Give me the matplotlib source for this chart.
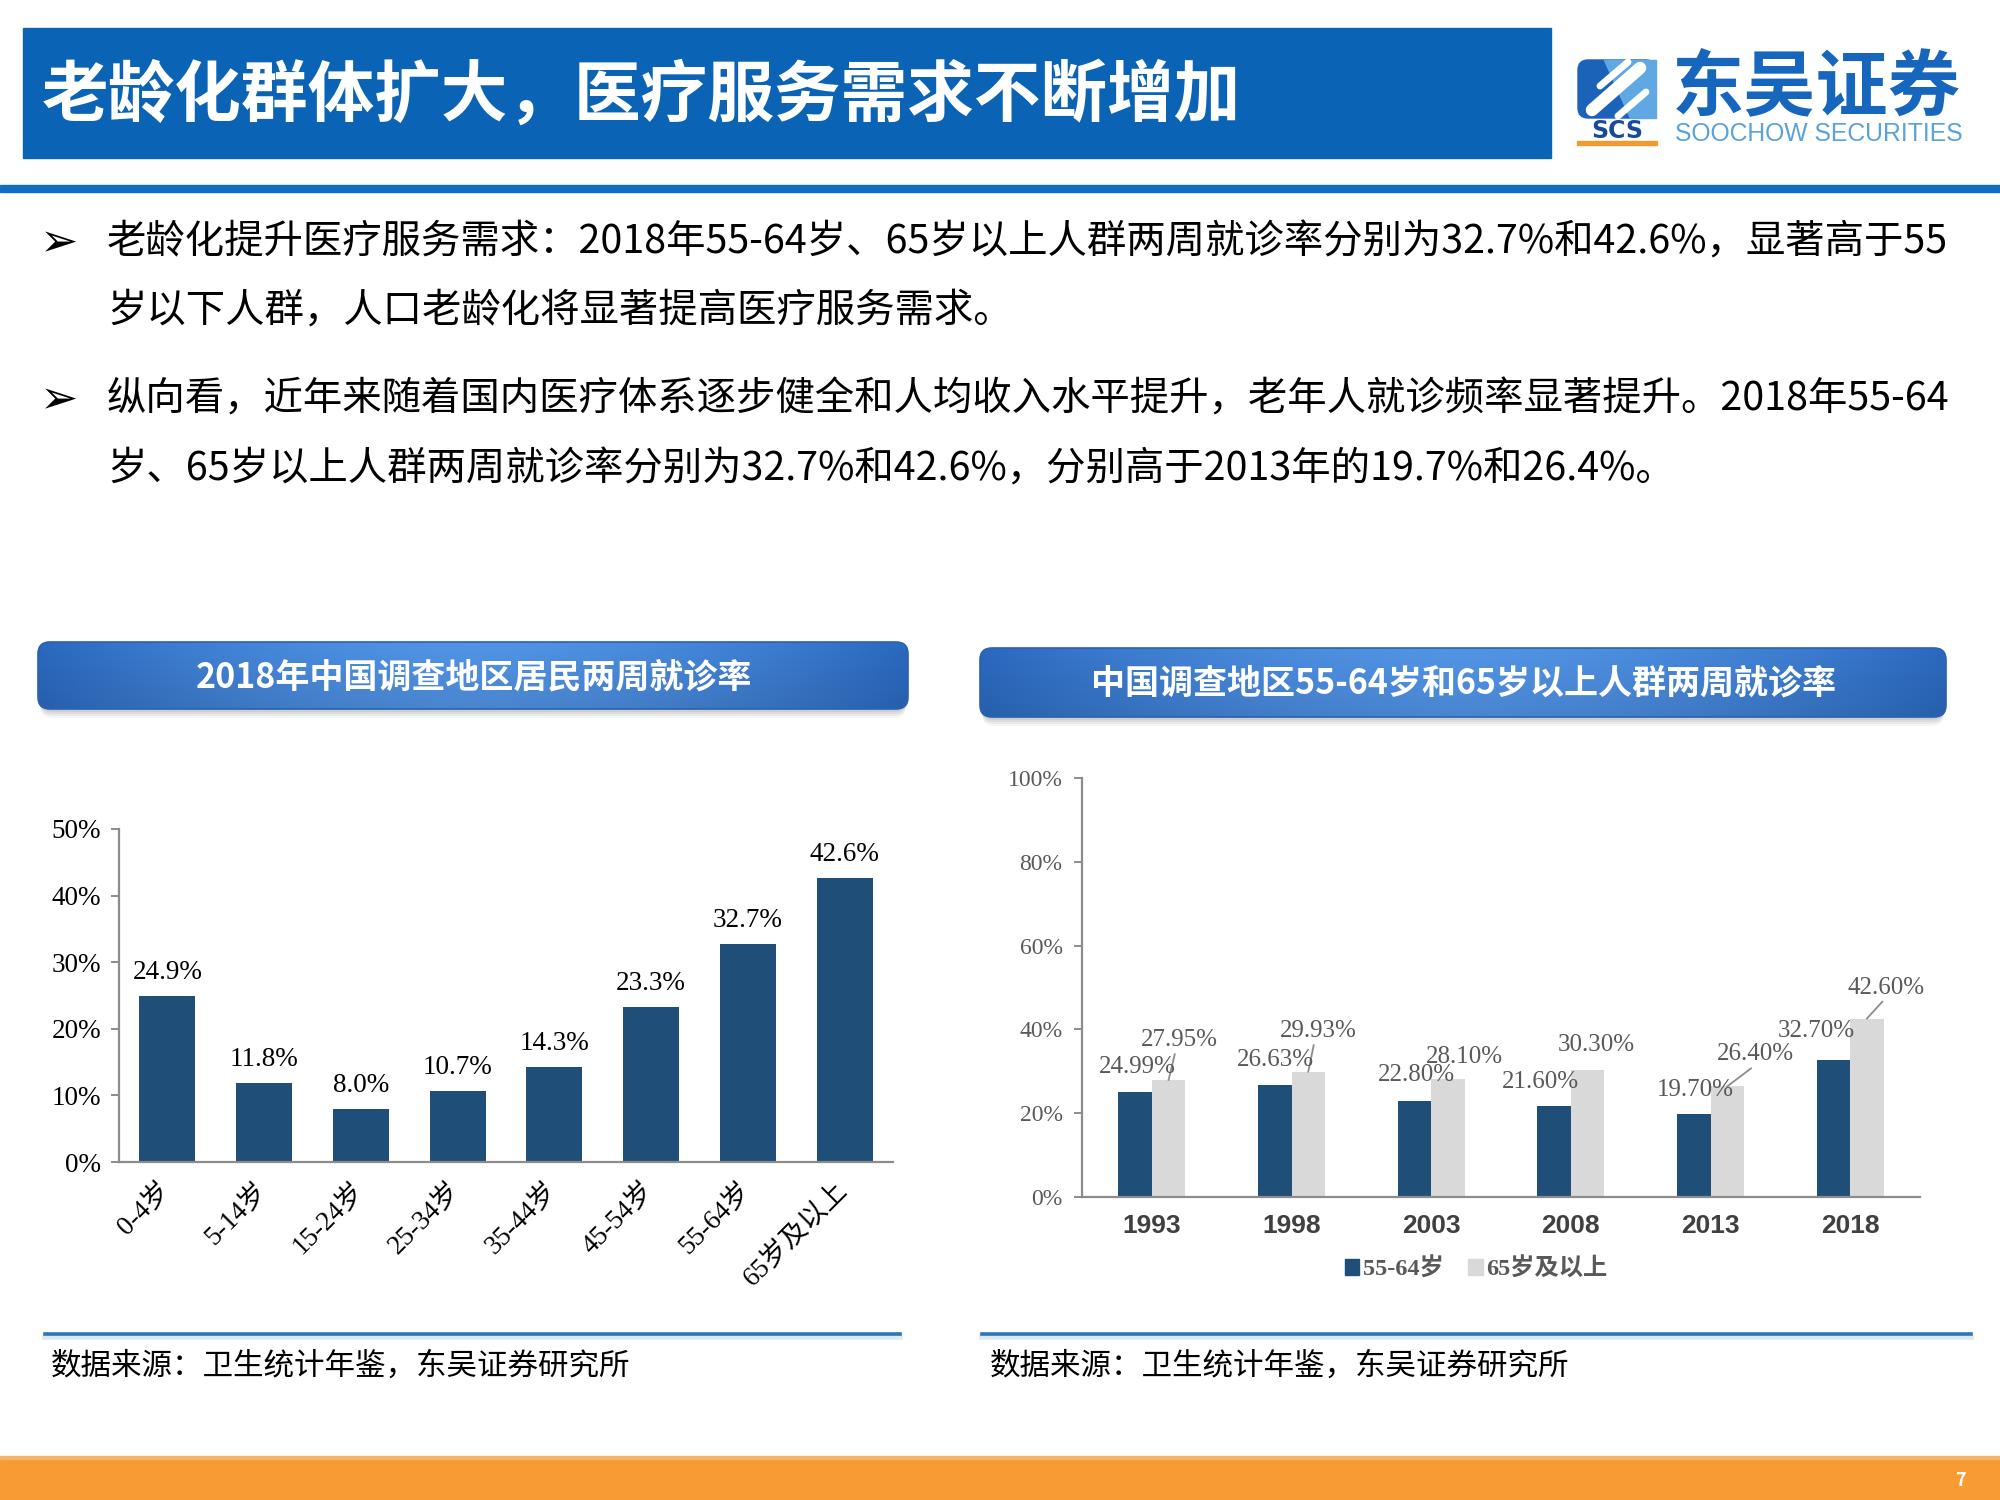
import matplotlib
matplotlib.use('Agg')
import matplotlib.pyplot as plt
import numpy as np
from matplotlib.patches import FancyBboxPatch, Rectangle, Polygon, Patch
from matplotlib.ticker import FuncFormatter, MultipleLocator

plt.rcParams['font.family'] = ['Noto Sans CJK SC', 'DejaVu Sans']

# ---------------- data ----------------
page_title = "老龄化群体扩大，医疗服务需求不断增加"
bullet_lines = [
    "老龄化提升医疗服务需求：2018年55-64岁、65岁以上人群两周就诊率分别为32.7%和42.6%，显著高于55",
    "岁以下人群，人口老龄化将显著提高医疗服务需求。",
    "纵向看，近年来随着国内医疗体系逐步健全和人均收入水平提升，老年人就诊频率显著提升。2018年55-64",
    "岁、65岁以上人群两周就诊率分别为32.7%和42.6%，分别高于2013年的19.7%和26.4%。",
]
bullet_flags = [True, False, True, False]

left_title = "2018年中国调查地区居民两周就诊率"
age_groups = ["0-4岁", "5-14岁", "15-24岁", "25-34岁", "35-44岁", "45-54岁", "55-64岁", "65岁及以上"]
visit_rate_2018 = [24.9, 11.8, 8.0, 10.7, 14.3, 23.3, 32.7, 42.6]

right_title = "中国调查地区55-64岁和65岁以上人群两周就诊率"
years = ["1993", "1998", "2003", "2008", "2013", "2018"]
rate_55_64 = [24.99, 26.63, 22.80, 21.60, 19.70, 32.70]
rate_65_plus = [27.95, 29.93, 28.10, 30.30, 26.40, 42.60]
series_names = ["55-64岁", "65岁及以上"]

source_text = "数据来源：卫生统计年鉴，东吴证券研究所"
logo_cn = "东吴证券"
logo_en = "SOOCHOW SECURITIES"
page_no = "7"

# label layout (offsets from bar centre / bar top), style only
dark_lab_dx = [0.013, 0.008, 0.013, -0.10, 0.013, -0.12]
dark_lab_dy = [6.1, 6.0, 6.2, 5.8, 5.9, 6.9]
light_lab_dx = [0.074, 0.069, 0.12, 0.06, 0.20, 0.14]
light_lab_dy = [9.5, 9.7, 5.4, 6.0, 7.7, 7.4]
light_leader = [True, True, False, False, True, True]

# ---------------- figure ----------------
W, H = 2000, 1500
DPI = 100
fig = plt.figure(figsize=(W / DPI, H / DPI), dpi=DPI)
bg = fig.add_axes([0, 0, 1, 1])
bg.set_xlim(0, W)
bg.set_ylim(H, 0)
bg.axis('off')

NAVY = '#1F4E79'
LIGHT = '#D9D9D9'
HEAD_BLUE = '#0B63B5'
SERIF = ['Liberation Serif', 'Noto Sans CJK SC']


def fig_rect(x0, y0, x1, y1):
    return [x0 / W, 1 - y1 / H, (x1 - x0) / W, (y1 - y0) / H]


# header
bg.add_patch(Rectangle((23, 28), 1528, 130, color=HEAD_BLUE, zorder=1))
bg.text(42, 96, page_title, color='white', fontsize=48, fontweight='bold',
        va='center', ha='left', zorder=2)
bg.add_patch(Rectangle((0, 185), W, 7, color='#0F6DC2', zorder=1))

# logo
bg.add_patch(FancyBboxPatch((1578, 60), 78, 58, boxstyle="round,pad=0,rounding_size=10",
                            color='#1A63B8', zorder=2))
bg.add_patch(Polygon([[1604, 60], [1656, 60], [1656, 118], [1630, 118]], closed=True,
                     color='#5FA8E3', zorder=2))
bg.plot([1592, 1640], [110, 68], color='white', lw=9, solid_capstyle='round', zorder=3)
bg.plot([1600, 1628], [86, 62], color='white', lw=5, solid_capstyle='round', zorder=3)
bg.plot([1618, 1646], [116, 92], color='white', lw=5, solid_capstyle='round', zorder=3)
bg.text(1617, 131, "SCS", color='#174A9C', fontsize=17, fontweight='bold',
        family=['DejaVu Sans'], ha='center', va='center', zorder=3)
bg.add_patch(Rectangle((1577, 141), 80, 4, color='#F29A2E', zorder=3))
bg.text(1672, 88, logo_cn, color='#1766BD', fontsize=52, fontweight='bold',
        ha='left', va='center', zorder=3)
t_en = bg.text(1675, 134, logo_en, color='#5AA2DA', fontsize=19,
               family=['Liberation Sans'], ha='left', va='center', zorder=3)

# body text
y_lines = [243, 311, 400, 470]
body_texts = []
for txt, yy, fl in zip(bullet_lines, y_lines, bullet_flags):
    if fl:
        bg.text(59, yy + 1, "\u27A2", family=['DejaVu Sans'], fontsize=33, color='black',
                ha='center', va='center')
    body_texts.append(bg.text(107, yy, txt, fontsize=28, color='black',
                              ha='left', va='center'))

# fit body text size to the reference line width
fig.canvas.draw()
r = fig.canvas.get_renderer()
w1 = body_texts[0].get_window_extent(r).width
fs = 28 * 1841.0 / w1
for t in body_texts:
    t.set_fontsize(fs)
we = t_en.get_window_extent(r).width
t_en.set_fontsize(19 * 288.0 / we)


# banners
def banner(x0, y0, x1, y1, text, cx, cy):
    for k, a in [(9, 0.05), (7, 0.07), (5, 0.09), (3, 0.10)]:
        bg.add_patch(FancyBboxPatch((x0 + 2, y0 + k), x1 - x0 - 4, y1 - y0,
                                    boxstyle="round,pad=0,rounding_size=12",
                                    color='#555555', alpha=a, lw=0, zorder=1))
    clip = FancyBboxPatch((x0, y0), x1 - x0, y1 - y0,
                          boxstyle="round,pad=0,rounding_size=12",
                          facecolor='none', edgecolor='#2A62B0', lw=1.2, zorder=3)
    bg.add_patch(clip)
    t = np.linspace(0, 1, 400)
    v = np.linspace(0, 1, 60)
    f = 1 - np.abs(2 * t - 1) ** 1.6
    edge = np.array([0x2B, 0x69, 0xBF]) / 255.0
    cen = np.array([0x52, 0x94, 0xE6]) / 255.0
    img = edge[None, None, :] + (cen - edge)[None, None, :] * f[None, :, None]
    vshade = 1 - 0.10 * v
    img = img * vshade[:, None, None]
    im = bg.imshow(np.clip(img, 0, 1), extent=(x0, x1, y1, y0), origin='upper',
                   aspect='auto', zorder=2, interpolation='bilinear')
    im.set_clip_path(clip)
    bg.text(cx, cy, text, color='white', fontsize=24.5, fontweight='bold',
            ha='center', va='center', zorder=4)


banner(38, 642, 908, 709, left_title, 474, 677)
banner(980, 648, 1946, 717, right_title, 1463, 683)
bg.set_xlim(0, W)
bg.set_ylim(H, 0)

# ---------------- left chart ----------------
ax1 = fig.add_axes(fig_rect(119, 829, 893, 1162))
x1 = np.arange(len(age_groups))
ax1.bar(x1, visit_rate_2018, width=0.58, color=NAVY, zorder=2)
ax1.set_xlim(-0.5, len(age_groups) - 0.5)
ax1.set_ylim(0, 50)
ax1.yaxis.set_major_locator(MultipleLocator(10))
ax1.yaxis.set_major_formatter(FuncFormatter(lambda v, p: f"{v:.0f}%"))
for s in ['top', 'right']:
    ax1.spines[s].set_visible(False)
for s in ['left', 'bottom']:
    ax1.spines[s].set_color('#8C8C8C')
    ax1.spines[s].set_linewidth(1.6)
ax1.tick_params(axis='y', direction='out', length=6, width=1.4, color='#8C8C8C',
                labelsize=19.5, pad=7)
ax1.tick_params(axis='x', length=0, pad=18)
ax1.set_xticks(x1)
ax1.set_xticklabels(age_groups, rotation=45, ha='right', va='center',
                    rotation_mode='anchor', fontsize=19.5, family=SERIF)
for lab in ax1.get_yticklabels():
    lab.set_family(SERIF)
for xi, v in zip(x1, visit_rate_2018):
    ax1.annotate(f"{v:.1f}%", (xi, v), xytext=(0, 8), textcoords='offset points',
                 ha='center', va='bottom', fontsize=19.5, family=SERIF, color='black')
ax1.patch.set_alpha(0)

# ---------------- right chart ----------------
ax2 = fig.add_axes(fig_rect(1082, 778, 1920, 1197))
x2 = np.arange(len(years))
bw = 0.24
ax2.bar(x2 - bw / 2, rate_55_64, width=bw, color=NAVY, zorder=2)
ax2.bar(x2 + bw / 2, rate_65_plus, width=bw, color=LIGHT, zorder=2)
ax2.set_xlim(-0.5, len(years) - 0.5)
ax2.set_ylim(0, 100)
ax2.yaxis.set_major_locator(MultipleLocator(20))
ax2.yaxis.set_major_formatter(FuncFormatter(lambda v, p: f"{v:.0f}%"))
for s in ['top', 'right']:
    ax2.spines[s].set_visible(False)
for s in ['left', 'bottom']:
    ax2.spines[s].set_color('#8C8C8C')
    ax2.spines[s].set_linewidth(1.6)
ax2.tick_params(axis='y', direction='out', length=6, width=1.4, color='#8C8C8C',
                labelsize=17, labelcolor='#595959', pad=8)
ax2.tick_params(axis='x', length=0, pad=12)
ax2.set_xticks(x2)
ax2.set_xticklabels(years, fontsize=19, fontweight='bold', color='#404040',
                    family=['Liberation Sans Narrow', 'Liberation Sans'])
for lab in ax2.get_yticklabels():
    lab.set_family(SERIF)
for i in range(len(years)):
    dx, dy = dark_lab_dx[i], dark_lab_dy[i]
    ax2.text(x2[i] - bw / 2 + dx, rate_55_64[i] + dy, f"{rate_55_64[i]:.2f}%",
             ha='center', va='center', fontsize=18, family=SERIF, color='#595959', zorder=4)
    lx = x2[i] + bw / 2 + light_lab_dx[i]
    ly = rate_65_plus[i] + light_lab_dy[i]
    ax2.text(lx, ly, f"{rate_65_plus[i]:.2f}%", ha='center', va='center',
             fontsize=18, family=SERIF, color='#595959', zorder=4)
    if light_leader[i]:
        ax2.plot([lx - 0.03, x2[i] + bw / 2], [ly - 3.4, rate_65_plus[i]],
                 color='#8C8C8C', lw=1.3, zorder=3)
ax2.patch.set_alpha(0)
handles = [Patch(color=NAVY), Patch(color=LIGHT)]
ax2.legend(handles, series_names, loc='center', bbox_to_anchor=(0.738, 1 - 1269 / H),
           bbox_transform=fig.transFigure, ncol=2, frameon=False,
           handlelength=0.6, handleheight=0.6, handletextpad=0.15, columnspacing=1.0,
           prop={'family': SERIF, 'weight': 'bold', 'size': 17.5}, labelcolor='#595959')

# ---------------- footer ----------------
for xa, xb in [(45, 900), (982, 1971)]:
    bg.plot([xa, xb], [1337, 1337], color='#DCE9F5', lw=4, zorder=1)
    bg.plot([xa, xb], [1334, 1334], color='#2E75B6', lw=2.6, zorder=2)
bg.text(51, 1366, source_text, fontsize=22, color='black', ha='left', va='center')
bg.text(990, 1366, source_text, fontsize=22, color='black', ha='left', va='center')
bg.add_patch(Rectangle((0, 1458), W, 42, color='#F89B32', zorder=1))
bg.add_patch(Rectangle((0, 1456), W, 3, color='#F6B46A', zorder=1))
bg.text(1960, 1481, page_no, color='white', fontsize=13, fontweight='bold',
        ha='center', va='center', zorder=2)

fig.savefig('out.png', dpi=DPI)
